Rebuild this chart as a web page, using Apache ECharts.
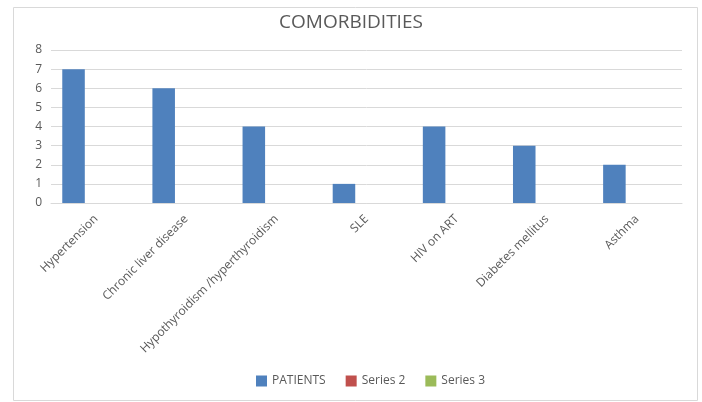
<!DOCTYPE html>
<html>
<head>
<meta charset="utf-8">
<script src="https://cdn.jsdelivr.net/npm/echarts@6/dist/echarts.min.js"></script>
<style>
  html, body { margin: 0; padding: 0; background: #fff; }
  #main { width: 702px; height: 402px; }
</style>
</head>
<body>
<div id="main"></div>
<script>
// 类别与数据
const categories = ['Hypertension', 'Chronic liver disease', 'Hypothyroidism /hyperthyroidism', 'SLE', 'HIV on ART', 'Diabetes mellitus', 'Asthma'];
const patients = [7, 6, 4, 1, 4, 3, 2];
const series2 = [null, null, null, null, null, null, null];
const series3 = [null, null, null, null, null, null, null];
const yTicks = [0, 1, 2, 3, 4, 5, 6, 7, 8];

const textColor = '#595959';
const font = '"Open Sans", "Liberation Sans", sans-serif';

const chart = echarts.init(document.getElementById('main'));

const option = {
  animation: false,
  title: {
    text: 'COMORBIDITIES',
    left: 'center',
    top: 8,
    textStyle: { fontFamily: font, fontSize: 19, fontWeight: 'normal', color: textColor }
  },
  graphic: [
    {
      type: 'rect',
      shape: { x: 13.5, y: 7.5, width: 684, height: 393 },
      style: { fill: 'none', stroke: '#d9d9d9', lineWidth: 1 },
      silent: true
    }
  ],
  legend: {
    bottom: 10,
    left: 251,
    itemWidth: 11,
    itemHeight: 11,
    itemGap: 20,
    icon: 'rect',
    textStyle: { fontFamily: font, fontSize: 12, color: textColor },
    data: ['PATIENTS', 'Series 2', 'Series 3']
  },
  grid: { left: 51, right: 20, top: 50, bottom: 199, containLabel: false },
  xAxis: {
    type: 'category',
    data: categories,
    axisLine: { lineStyle: { color: '#d9d9d9' } },
    axisTick: { show: false },
    axisLabel: { rotate: 45, interval: 0, margin: 14, fontFamily: font, fontSize: 12, color: textColor }
  },
  yAxis: {
    type: 'value',
    min: yTicks[0],
    max: yTicks[yTicks.length - 1],
    interval: 1,
    axisLine: { show: false },
    axisTick: { show: false },
    splitLine: { lineStyle: { color: '#d9d9d9' } },
    axisLabel: { margin: 9, fontFamily: font, fontSize: 12, color: textColor }
  },
  series: [
    { name: 'PATIENTS', type: 'bar', data: patients, barGap: '0%', barCategoryGap: '25%', itemStyle: { color: '#4f81bd' } },
    { name: 'Series 2', type: 'bar', data: series2, itemStyle: { color: '#c0504d' } },
    { name: 'Series 3', type: 'bar', data: series3, itemStyle: { color: '#9bbb59' } }
  ]
};

chart.setOption(option);
</script>
</body>
</html>
